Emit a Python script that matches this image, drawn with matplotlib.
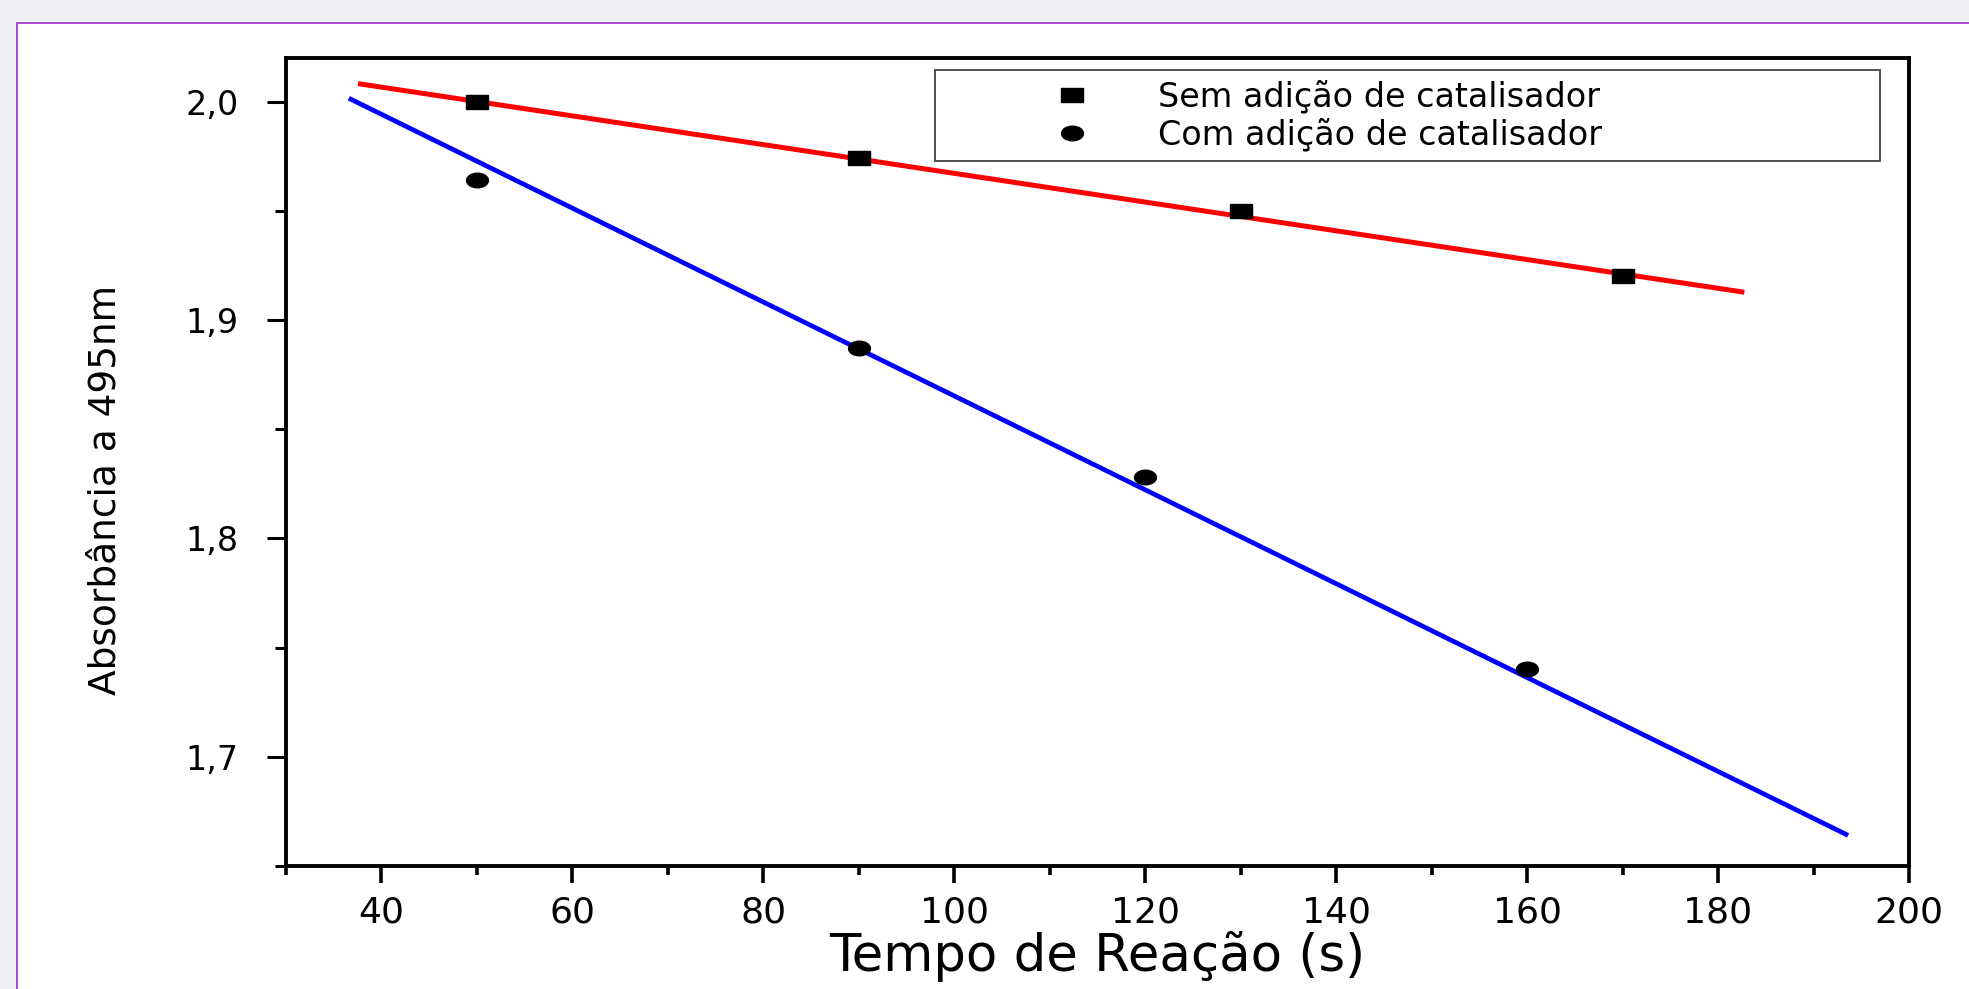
import numpy as np
import matplotlib
matplotlib.use("Agg")
import matplotlib.pyplot as plt
from matplotlib.patches import Rectangle
from matplotlib.markers import MarkerStyle
from matplotlib.transforms import Affine2D
from matplotlib.lines import Line2D
from matplotlib.ticker import MultipleLocator

# ---------------------------------------------------------------------------
# Data
# ---------------------------------------------------------------------------
sem_time = [50, 90, 130, 170]
sem_abs = [2.000, 1.974, 1.950, 1.920]

com_time = [50, 90, 120, 160]
com_abs = [1.964, 1.887, 1.828, 1.740]

# linear fits, drawn between these end points
sem_fit_x = [37.8, 182.5]
sem_fit_y = [2.0081, 1.9129]
com_fit_x = [36.8, 193.4]
com_fit_y = [2.0011, 1.6645]

x_ticks = [40, 60, 80, 100, 120, 140, 160, 180, 200]
x_tick_labels = ["40", "60", "80", "100", "120", "140", "160", "180", "200"]
y_ticks = [1.7, 1.8, 1.9, 2.0]
y_tick_labels = ["1,7", "1,8", "1,9", "2,0"]

legend_labels = ["Sem adição de catalisador", "Com adição de catalisador"]
x_label = "Tempo de Reação (s)"
y_label = "Absorbância a 495nm"

# ---------------------------------------------------------------------------
# Figure
# ---------------------------------------------------------------------------
W, H = 1969, 989
fig = plt.figure(figsize=(W / 100, H / 100), dpi=100)
fig.patch.set_facecolor("#eef0f3")

# white slide panel with violet border, behind the axes
panel = Rectangle((17 / W, -0.1), 1.2, 1.1 - 23 / H,
                  transform=fig.transFigure, facecolor="white",
                  edgecolor="#a23bd6", lw=1.3, zorder=-10)
fig.add_artist(panel)

ax = fig.add_axes([286 / W, 1 - 866 / H, (1909 - 286) / W, (866 - 58) / H])
ax.set_facecolor("white")
ax.set_zorder(5)

# the original is stretched sideways, so the markers are wide
sq = MarkerStyle("s", transform=Affine2D().scale(1.65, 1.0))
ci = MarkerStyle("o", transform=Affine2D().scale(1.5, 1.0))

ax.plot(sem_fit_x, sem_fit_y, color="#ff0000", lw=3.6, zorder=2)
ax.plot(com_fit_x, com_fit_y, color="#0000ff", lw=3.4, zorder=2)
ax.plot(sem_time, sem_abs, linestyle="none", marker=sq, ms=10,
        color="black", zorder=3)
ax.plot(com_time, com_abs, linestyle="none", marker=ci, ms=10.5,
        color="black", zorder=3)

ax.set_xlim(30, 200)
ax.set_ylim(1.65, 2.02)

ax.set_xticks(x_ticks)
ax.set_xticklabels(x_tick_labels)
ax.set_yticks(y_ticks)
ax.set_yticklabels(y_tick_labels)
ax.xaxis.set_minor_locator(MultipleLocator(10))
ax.yaxis.set_minor_locator(MultipleLocator(0.05))

for s in ax.spines.values():
    s.set_linewidth(2.8)
    s.set_color("black")

ax.tick_params(axis="x", which="major", direction="out", length=12,
               width=2.6, pad=9, labelsize=26)
ax.tick_params(axis="x", which="minor", direction="out", length=6.5, width=2.6)
ax.tick_params(axis="y", which="major", direction="out", length=14,
               width=2.2, pad=20, labelsize=24)
ax.tick_params(axis="y", which="minor", direction="out", length=8, width=2.2)
ax.tick_params(top=False, right=False, which="both")
for lab in ax.get_xticklabels() + ax.get_yticklabels():
    lab.set_family("DejaVu Sans")

ax.set_xlabel(x_label, fontsize=37, family="DejaVu Sans")
ax.xaxis.set_label_coords(0.5, -0.08)
ax.set_ylabel(y_label, fontsize=27, family="DejaVu Sans")
ax.yaxis.set_label_coords(-0.1, 0.465)

handles = [
    Line2D([], [], linestyle="none", marker=sq, ms=10, color="black"),
    Line2D([], [], linestyle="none", marker=ci, ms=10.5, color="black"),
]
bx0, bx1, by0, by1 = 935 / W, 1880 / W, 1 - 164 / H, 1 - 70 / H
leg = ax.legend(handles, legend_labels, loc="upper left",
                bbox_to_anchor=(bx0, by0, bx1 - bx0, by1 - by0),
                bbox_transform=fig.transFigure, mode="expand",
                borderaxespad=0, frameon=True, fancybox=False,
                borderpad=0.3, labelspacing=0.13, handlelength=7.6,
                handletextpad=-1.2, prop={"family": "DejaVu Sans", "size": 24})
leg.get_frame().set_edgecolor("#222222")
leg.get_frame().set_linewidth(1.4)

fig.savefig("out.png", dpi=100, facecolor=fig.get_facecolor())
